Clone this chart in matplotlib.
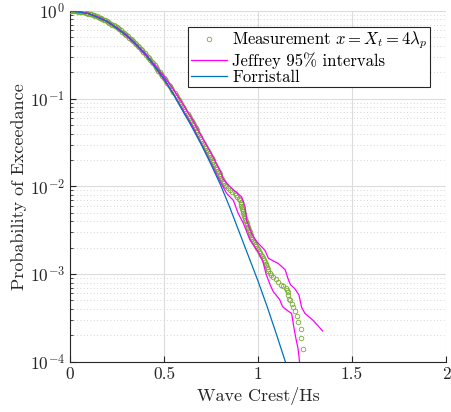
import matplotlib
matplotlib.use("Agg")
import matplotlib.pyplot as plt
import numpy as np
from matplotlib.ticker import LogLocator, NullFormatter

plt.rcParams["font.family"] = "serif"
plt.rcParams["font.serif"] = ["cmr10", "DejaVu Serif"]
plt.rcParams["mathtext.fontset"] = "cm"
plt.rcParams["axes.formatter.use_mathtext"] = True

meas_x = [
    0.0, 0.0075, 0.015, 0.0225, 0.03, 0.0375, 0.045, 0.0525, 0.06, 0.0675,
    0.075, 0.0825, 0.09, 0.0975, 0.105, 0.1125, 0.12, 0.1275, 0.135, 0.1425,
    0.15, 0.1575, 0.165, 0.1725, 0.18, 0.1875, 0.195, 0.2025, 0.21, 0.2175,
    0.225, 0.2325, 0.24, 0.2475, 0.255, 0.2625, 0.27, 0.2775, 0.285, 0.2925,
    0.3, 0.3075, 0.315, 0.3225, 0.33, 0.3375, 0.345, 0.3525, 0.36, 0.3675,
    0.375, 0.3825, 0.39, 0.3975, 0.405, 0.4125, 0.42, 0.4275, 0.435, 0.4425,
    0.45, 0.456, 0.463, 0.4705, 0.478, 0.485, 0.492, 0.4985, 0.505, 0.5115,
    0.518, 0.5245, 0.531, 0.5375, 0.544, 0.550, 0.556, 0.562, 0.568, 0.574,
    0.580, 0.586, 0.592, 0.5975, 0.603, 0.6085, 0.614, 0.6195, 0.625, 0.6305,
    0.636, 0.6415, 0.647, 0.6525, 0.658, 0.663, 0.668, 0.673, 0.678, 0.683,
    0.688, 0.693, 0.698, 0.703, 0.708, 0.713, 0.718, 0.723, 0.728, 0.733,
    0.738, 0.743, 0.748, 0.753, 0.758, 0.7625, 0.767, 0.772, 0.777, 0.7815,
    0.786, 0.791, 0.796, 0.8005, 0.805, 0.8095, 0.814, 0.8185, 0.823, 0.830,
    0.840, 0.851, 0.863, 0.875, 0.883, 0.890, 0.897, 0.904, 0.907, 0.910,
    0.912, 0.914, 0.9165, 0.919, 0.9215, 0.924, 0.927, 0.930, 0.933, 0.936,
    0.939, 0.942, 0.945, 0.948, 0.9515, 0.955, 0.958, 0.961, 0.9645, 0.968,
    0.973, 0.978, 0.984, 0.990, 0.995, 1.000, 1.0055, 1.011, 1.0155, 1.020,
    1.025, 1.030, 1.035, 1.040, 1.045, 1.050, 1.0525, 1.055, 1.062, 1.069,
    1.081, 1.096, 1.108, 1.121, 1.135, 1.149, 1.152, 1.158, 1.161, 1.166,
    1.170, 1.183, 1.188, 1.197, 1.207, 1.215, 1.227, 1.227, 1.241]
meas_log10p = [
    0.0, -0.0002, -0.0007, -0.0015, -0.0027, -0.0043, -0.0062, -0.0084, -0.011, -0.0139,
    -0.017, -0.0208, -0.025, -0.029, -0.034, -0.0386, -0.044, -0.0496, -0.056, -0.0619,
    -0.069, -0.0757, -0.083, -0.0908, -0.099, -0.1072, -0.116, -0.1251, -0.135, -0.1443,
    -0.154, -0.1649, -0.176, -0.1868, -0.198, -0.2102, -0.222, -0.2349, -0.248, -0.2609,
    -0.275, -0.2884, -0.303, -0.3172, -0.332, -0.3474, -0.363, -0.379, -0.395, -0.4119,
    -0.429, -0.4462, -0.464, -0.4819, -0.500, -0.519, -0.538, -0.5574, -0.577, -0.5972,
    -0.618, -0.64, -0.66, -0.68, -0.70, -0.72, -0.74, -0.76, -0.78, -0.80,
    -0.82, -0.84, -0.86, -0.88, -0.90, -0.92, -0.94, -0.96, -0.98, -1.00,
    -1.02, -1.04, -1.06, -1.08, -1.10, -1.12, -1.14, -1.16, -1.18, -1.20,
    -1.22, -1.24, -1.26, -1.28, -1.30, -1.32, -1.34, -1.36, -1.38, -1.40,
    -1.42, -1.44, -1.46, -1.48, -1.50, -1.52, -1.54, -1.56, -1.58, -1.60,
    -1.62, -1.64, -1.66, -1.68, -1.70, -1.72, -1.74, -1.76, -1.78, -1.80,
    -1.82, -1.84, -1.86, -1.88, -1.90, -1.92, -1.94, -1.96, -1.98, -2.00,
    -2.02, -2.04, -2.06, -2.08, -2.10, -2.12, -2.14, -2.16, -2.18, -2.20,
    -2.22, -2.24, -2.26, -2.28, -2.30, -2.32, -2.34, -2.36, -2.38, -2.40,
    -2.42, -2.44, -2.46, -2.48, -2.50, -2.52, -2.54, -2.56, -2.58, -2.60,
    -2.62, -2.64, -2.66, -2.68, -2.70, -2.72, -2.74, -2.76, -2.78, -2.80,
    -2.82, -2.84, -2.86, -2.88, -2.90, -2.92, -2.94, -2.96, -2.985, -3.01,
    -3.03, -3.06, -3.09, -3.12, -3.14, -3.165, -3.185, -3.20, -3.24, -3.28,
    -3.30, -3.34, -3.375, -3.425, -3.48, -3.547, -3.63, -3.725, -3.85]

# Jeffrey 95% bounds
jef_up_x = [0.0, 0.05, 0.1, 0.15, 0.2, 0.25, 0.3, 0.35, 0.4, 0.45, 0.5, 0.55, 0.6,
            0.65, 0.7, 0.75, 0.8, 0.816, 0.845, 0.869, 0.913, 0.931, 0.94, 0.966,
            0.993, 1.037, 1.055, 1.081, 1.108, 1.144, 1.161, 1.172, 1.197, 1.218,
            1.228, 1.232, 1.25, 1.294, 1.344]
jef_up_log10p = [0.0, -0.007, -0.03, -0.068, -0.12, -0.19, -0.272, -0.37, -0.483, -0.612,
                 -0.745, -0.895, -1.06, -1.235, -1.43, -1.62, -1.83, -1.92, -1.99, -2.04,
                 -2.12, -2.23, -2.39, -2.54, -2.63, -2.73, -2.82, -2.85, -2.88, -2.95,
                 -3.06, -3.12, -3.17, -3.24, -3.34, -3.38, -3.45, -3.53, -3.65]
jef_lo_x = [0.0, 0.05, 0.1, 0.15, 0.2, 0.25, 0.3, 0.35, 0.4, 0.45, 0.5, 0.55, 0.6,
            0.65, 0.7, 0.75, 0.8, 0.833, 0.869, 0.895, 0.922, 0.957, 1.002, 1.025,
            1.043, 1.064, 1.081, 1.115, 1.13, 1.152, 1.179, 1.19, 1.203, 1.213,
            1.22, 1.222]
jef_lo_log10p = [0.0, -0.008, -0.032, -0.072, -0.126, -0.198, -0.282, -0.382, -0.5, -0.63,
                 -0.785, -0.945, -1.125, -1.31, -1.52, -1.735, -1.95, -2.08, -2.16, -2.31,
                 -2.42, -2.61, -2.75, -2.85, -3.0, -3.12, -3.2, -3.29, -3.37, -3.41,
                 -3.45, -3.6, -3.75, -3.85, -3.98, -4.05]

# Forristall distribution
forr_x = [0.0, 0.1, 0.2, 0.3, 0.4, 0.5, 0.55, 0.6, 0.65, 0.7, 0.75, 0.8, 0.85,
          0.9, 0.95, 1.0, 1.05, 1.1, 1.15, 1.17]
forr_log10p = [0.0, -0.03, -0.122, -0.275, -0.49, -0.77, -0.95, -1.14, -1.33, -1.53,
               -1.75, -1.98, -2.24, -2.52, -2.80, -3.08, -3.38, -3.70, -4.03, -4.15]

fig = plt.figure(figsize=(4.51, 4.12), dpi=100)
ax = fig.add_axes([70 / 451, 50.3 / 412, 376 / 451, 350.7 / 412])

ax.plot(meas_x, 10 ** np.array(meas_log10p), "o", ls="none", ms=3.3, mew=0.6,
        mfc="none", mec="#77AC30", label=r"Measurement $x = X_t = 4\lambda_p$", zorder=3)
ax.plot(jef_up_x, 10 ** np.array(jef_up_log10p), color="#FF00FF", lw=0.9,
        label="Jeffrey 95% intervals", zorder=4)
ax.plot(jef_lo_x, 10 ** np.array(jef_lo_log10p), color="#FF00FF", lw=0.9, zorder=4)
ax.plot(forr_x, 10 ** np.array(forr_log10p), color="#0072BD", lw=0.9,
        label="Forristall", zorder=5)

ax.set_yscale("log")
ax.set_xlim(0, 2)
ax.set_ylim(1e-4, 1)
ax.set_xticks([0, 0.5, 1, 1.5, 2])
ax.set_xticklabels(["0", "0.5", "1", "1.5", "2"])
ax.yaxis.set_minor_locator(LogLocator(base=10, subs=np.arange(2, 10), numticks=20))
ax.yaxis.set_minor_formatter(NullFormatter())

ax.grid(True, which="major", color="#dcdcdc", lw=0.8)
ax.grid(True, which="minor", axis="y", color="#c8c8c8", lw=0.6, ls=(0, (1, 3)))
ax.set_axisbelow(True)

for s in ["top", "right"]:
    ax.spines[s].set_visible(False)
for s in ["left", "bottom"]:
    ax.spines[s].set_color("#262626")
    ax.spines[s].set_linewidth(0.8)
ax.tick_params(which="both", direction="in", colors="#262626", labelsize=12.5)
ax.tick_params(which="major", length=4)
ax.tick_params(which="minor", length=2.5)

ax.set_xlabel("Wave Crest/Hs", fontsize=13, color="#262626", labelpad=4)
ax.set_ylabel("Probability of Exceedance", fontsize=13, color="#262626", labelpad=2)

leg = ax.legend(loc="upper right", bbox_to_anchor=(430 / 451, 385 / 412),
                bbox_transform=fig.transFigure, fontsize=12, frameon=True,
                fancybox=False, framealpha=1, edgecolor="#262626",
                handlelength=2.2, handletextpad=0.3, borderpad=0.15,
                labelspacing=0.05, borderaxespad=0)
leg.get_frame().set_linewidth(0.8)

fig.savefig("out.png", dpi=100)
